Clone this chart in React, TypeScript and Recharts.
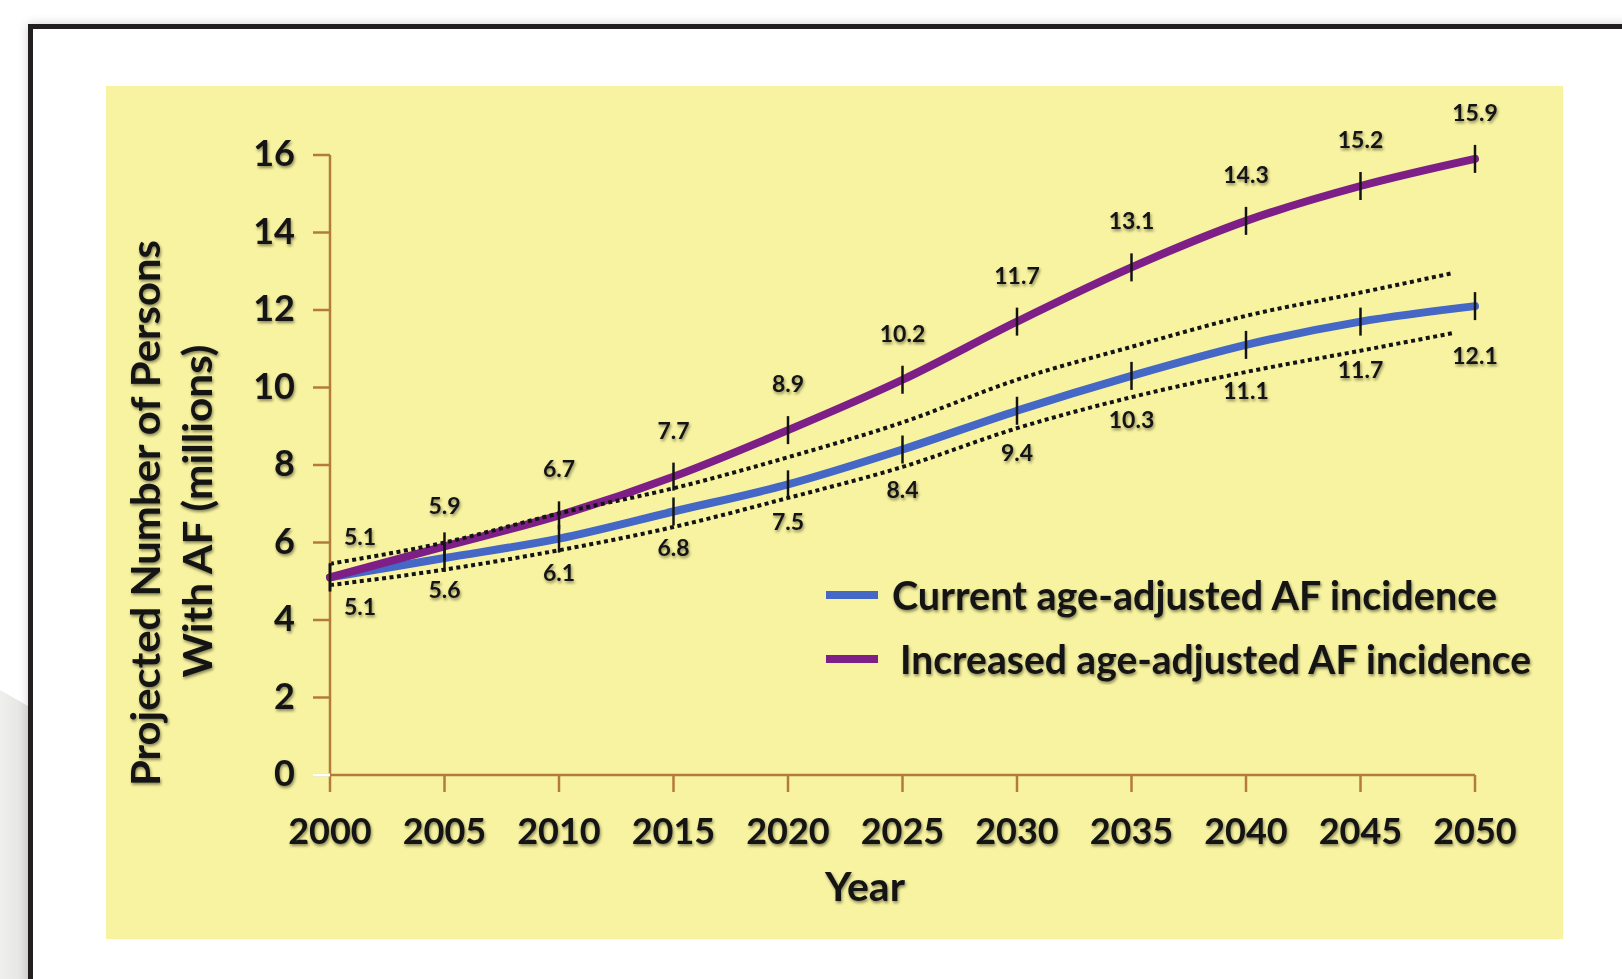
import React from 'react';
import { LineChart, Line, XAxis, YAxis, Legend, Label, LabelList } from 'recharts';

const years = [2000, 2005, 2010, 2015, 2020, 2025, 2030, 2035, 2040, 2045, 2050];
const currentIncidence = [5.1, 5.6, 6.1, 6.8, 7.5, 8.4, 9.4, 10.3, 11.1, 11.7, 12.1];
const increasedIncidence = [5.1, 5.9, 6.7, 7.7, 8.9, 10.2, 11.7, 13.1, 14.3, 15.2, 15.9];
const boundYears = [2000, 2005, 2010, 2015, 2020, 2025, 2030, 2035, 2040, 2045, 2049];
const upperBound = [5.45, 6.0, 6.75, 7.4, 8.2, 9.1, 10.2, 11.05, 11.85, 12.45, 12.95];
const lowerBound = [4.9, 5.3, 5.8, 6.4, 7.15, 7.95, 8.95, 9.75, 10.4, 10.95, 11.4];
const yTicks = [0, 2, 4, 6, 8, 10, 12, 14, 16];

const currentData = years.map((year, i) => ({ year, value: currentIncidence[i] }));
const increasedData = years.map((year, i) => ({ year, value: increasedIncidence[i] }));
const upperData = boundYears.map((year, i) => ({ year, value: upperBound[i] }));
const lowerData = boundYears.map((year, i) => ({ year, value: lowerBound[i] }));

const AXIS = '#b27b3b';
const BLUE = '#4567c6';
const PURPLE = '#7d1f87';
const INK = '#141414';
const FONT = 'Lato, "Open Sans", sans-serif';
const shadow = { filter: 'drop-shadow(1px 2px 1.5px rgba(0,0,0,0.45))' };

const tickDot = (props: any) => {
  const { cx, cy, index } = props;
  return <line key={`m-${index}`} x1={cx} x2={cx} y1={cy - 14} y2={cy + 14} stroke={INK} strokeWidth={2.5} />;
};

// purple values sit above the curve, blue ones below (gap widens a little to the right)
const labelAbove = (props: any) => {
  const { x, y, value, index } = props;
  return (
    <text key={`a-${index}`} x={x + (index === 0 ? 30 : 0)} y={y - (index < 2 ? 41 : 47)} textAnchor="middle"
      dominantBaseline="central" fontFamily={FONT} fontWeight={700} fontSize={23} fill={INK} style={shadow}>
      {value}
    </text>
  );
};

const labelBelow = (props: any) => {
  const { x, y, value, index } = props;
  return (
    <text key={`b-${index}`} x={x + (index === 0 ? 30 : 0)} y={y + 29 + 2 * index} textAnchor="middle"
      dominantBaseline="central" fontFamily={FONT} fontWeight={700} fontSize={23} fill={INK} style={shadow}>
      {value}
    </text>
  );
};

const YTick = (props: any) => {
  const { x, y, payload } = props;
  return (
    <g>
      {payload.value === 0 && <line x1={x + 18} x2={x + 35} y1={y} y2={y} stroke="#ffffff" strokeWidth={3} />}
      <text x={x} y={y - 3} textAnchor="end" dominantBaseline="central" fontFamily={FONT} fontWeight={700}
        fontSize={36} fill={INK} style={shadow}>
        {payload.value}
      </text>
    </g>
  );
};

const XTick = (props: any) => {
  const { x, y, payload } = props;
  return (
    <text x={x} y={y + 30} textAnchor="middle" dominantBaseline="central" fontFamily={FONT} fontWeight={700}
      fontSize={36} fill={INK} style={shadow}>
      {payload.value}
    </text>
  );
};

const yTitle = () => (
  <g style={shadow}>
    <text x={39} y={427} transform="rotate(-90, 39, 427)" textAnchor="middle" dominantBaseline="central"
      fontFamily={FONT} fontWeight={700} fontSize={40} fill={INK} textLength={546} lengthAdjust="spacingAndGlyphs">
      Projected Number of Persons
    </text>
    <text x={91} y={425} transform="rotate(-90, 91, 425)" textAnchor="middle" dominantBaseline="central"
      fontFamily={FONT} fontWeight={700} fontSize={40} fill={INK} textLength={333} lengthAdjust="spacingAndGlyphs">
      With AF (millions)
    </text>
  </g>
);

const xTitle = () => (
  <text x={759} y={800} textAnchor="middle" dominantBaseline="central" fontFamily={FONT} fontWeight={700}
    fontSize={40} fill={INK} style={shadow} textLength={80} lengthAdjust="spacingAndGlyphs">
    Year
  </text>
);

const legendItems = [
  { label: 'Current age-adjusted AF incidence', color: BLUE, y: 25, tx: 68, len: 605 },
  { label: 'Increased age-adjusted AF incidence', color: PURPLE, y: 89, tx: 76, len: 631 },
];

const renderLegend = () => (
  <svg width={760} height={115}>
    {legendItems.map((it) => (
      <g key={it.label}>
        <line x1={2} x2={54} y1={it.y} y2={it.y} stroke={it.color} strokeWidth={8} />
        <text x={it.tx} y={it.y} dominantBaseline="central" fontFamily={FONT} fontWeight={700} fontSize={40}
          fill={INK} style={shadow} textLength={it.len} lengthAdjust="spacingAndGlyphs">
          {it.label}
        </text>
      </g>
    ))}
  </svg>
);

export default function App() {
  return (
    <div style={{ position: 'absolute', left: 0, top: 0, width: 1622, height: 979, background: '#fff', overflow: 'hidden' }}>
      <div style={{
        position: 'absolute', left: 0, top: 690, width: 28, height: 289,
        background: 'linear-gradient(to right, #efefed, #e3e3e1)',
        clipPath: 'polygon(0 0, 100% 16px, 100% 100%, 0 100%)',
      }} />
      <div style={{
        position: 'absolute', left: 28, top: 24, width: 1700, height: 1100, boxSizing: 'border-box',
        border: '5px solid #231f20', background: '#fff', boxShadow: '0 0 10px rgba(0,0,0,0.18)',
      }} />
      <div style={{ position: 'absolute', left: 106, top: 86, width: 1457, height: 853, background: '#f8f3a0' }}>
        <LineChart width={1457} height={853} margin={{ top: 69, right: 88, bottom: 0, left: 0 }}>
          <XAxis dataKey="year" type="number" domain={[2000, 2050]} ticks={years} height={164}
            stroke={AXIS} strokeWidth={2.5} tickSize={17} tickMargin={8} tick={<XTick />}
            tickLine={{ stroke: AXIS, strokeWidth: 2.5 }} allowDuplicatedCategory={false}>
            <Label content={xTitle} />
          </XAxis>
          <YAxis type="number" domain={[0, 16]} ticks={yTicks} width={224} stroke={AXIS} strokeWidth={2.5}
            tickSize={17} tickMargin={18} tick={<YTick />} tickLine={{ stroke: AXIS, strokeWidth: 2.5 }}>
            <Label content={yTitle} />
          </YAxis>
          <Legend layout="vertical" align="center" verticalAlign="middle" content={renderLegend}
            wrapperStyle={{ left: 718, top: 484, width: 760, height: 115 }} />
          <Line data={currentData} dataKey="value" type="monotone" stroke={BLUE} strokeWidth={8}
            strokeLinecap="round" dot={tickDot} activeDot={false} isAnimationActive={false}>
            <LabelList dataKey="value" content={labelBelow} />
          </Line>
          <Line data={increasedData} dataKey="value" type="monotone" stroke={PURPLE} strokeWidth={8}
            strokeLinecap="round" dot={tickDot} activeDot={false} isAnimationActive={false}>
            <LabelList dataKey="value" content={labelAbove} />
          </Line>
          <Line data={upperData} dataKey="value" type="monotone" stroke={INK} strokeWidth={4}
            strokeDasharray="4 3.5" dot={false} activeDot={false} isAnimationActive={false} />
          <Line data={lowerData} dataKey="value" type="monotone" stroke={INK} strokeWidth={4}
            strokeDasharray="4 3.5" dot={false} activeDot={false} isAnimationActive={false} />
        </LineChart>
      </div>
    </div>
  );
}
